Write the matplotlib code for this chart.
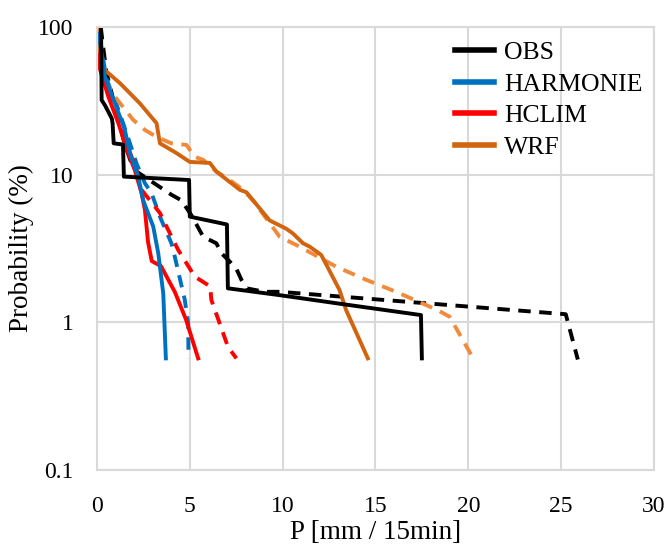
import numpy as np
import matplotlib.pyplot as plt
from matplotlib.ticker import FixedLocator, FixedFormatter

# OBS
obs_x = [0.22, 0.25, 0.43, 0.8, 0.84, 0.9, 1.4, 1.45, 4.96, 5.0, 7.0, 7.05, 9.8, 13.2, 17.45, 17.5]
obs_y = [100, 32, 29.5, 24, 22.3, 16.3, 16, 9.7, 9.2, 5.2, 4.6, 1.7, 1.53, 1.33, 1.12, 0.57]
obs2_x = [0.2, 0.5, 1.15, 1.5, 1.86, 2.13, 3.48, 4.02, 4.55, 5.09, 5.72, 6.43, 6.7, 7.06, 7.5, 7.78, 8.05, 9.03, 9.84, 25.25, 25.9]
obs2_y = [100, 50, 23.5, 16, 11.9, 10.5, 8.1, 7.3, 6.7, 5.3, 3.8, 3.43, 2.94, 2.65, 2.32, 1.94, 1.70, 1.61, 1.61, 1.135, 0.56]

# HARMONIE
har_x = [0.1, 0.43, 0.97, 1.5, 1.77, 2.22, 2.49, 3.03, 3.3, 3.57, 3.71]
har_y = [90, 45.7, 30.4, 20.1, 14, 9.7, 6.7, 4.45, 2.94, 1.57, 0.57]
har2_x = [0.15, 0.5, 1.05, 1.6, 1.95, 2.13, 2.58, 2.94, 3.39, 4.01, 4.19, 4.73, 4.91, 4.93]
har2_y = [85, 45, 30, 19, 14, 11.9, 8.75, 7.5, 5.2, 3.43, 2.79, 1.42, 0.99, 0.57]

# HCLIM
hcl_x = [0.05, 0.07, 0.61, 1.15, 1.68, 2.04, 2.4, 2.58, 2.75, 2.95, 3.45, 4.2, 4.8, 5.45]
hcl_y = [65, 56.7, 33.8, 22.3, 14, 10.7, 7.5, 5.8, 3.5, 2.6, 2.4, 1.6, 1.04, 0.57]
hcl2_x = [0.05, 0.5, 1.1, 1.7, 2.1, 2.4, 3.39, 3.57, 4.37, 5.27, 6.1, 6.16, 7.06, 7.51]
hcl2_y = [70, 42, 25, 15, 11, 7.9, 5.5, 4.93, 3.1, 2.04, 1.75, 1.42, 0.68, 0.57]

# WRF
wrf_x = [0.0, 0.0, 0.43, 1.24, 2.31, 3.21, 3.39, 4.28, 5.0, 6.08, 6.43, 7.69, 8.05, 9.3, 10.2, 10.55, 11.1, 11.45, 12.08, 13.06, 13.42, 14.59]
wrf_y = [100, 66, 51, 41.6, 30.4, 22.3, 16.3, 14, 12.2, 12.0, 10.5, 7.9, 7.6, 4.9, 4.3, 4.0, 3.43, 3.26, 2.86, 1.66, 1.21, 0.57]
wrf2_x = [0.0, 0.34, 0.97, 1.95, 2.58, 3.21, 4.01, 4.82, 5.27, 5.72, 6.43, 7.15, 7.87, 8.4, 9.84, 10.9, 12.89, 14.5, 16.11, 18.35, 19.0, 20.3]
wrf2_y = [60, 45.7, 33.7, 23.5, 20.1, 18, 16.3, 15.9, 13.2, 12.6, 10.5, 9.2, 7.9, 6.7, 3.8, 3.26, 2.38, 1.94, 1.61, 1.21, 1.09, 0.56]

plt.rcParams['font.family'] = ['Liberation Serif', 'DejaVu Serif']

fig = plt.figure(figsize=(6.67, 5.51), dpi=100)
ax = fig.add_axes([0.1454, 0.147, 0.835, 0.804])

lw = 2.8
dash = (3.2, 2.2)
c_obs, c_har, c_hcl, c_wrf, c_wrf2 = 'black', '#0070C0', '#FF0000', '#D2630F', '#F28A3B'

ax.plot(obs2_x, obs2_y, color=c_obs, lw=lw, dashes=dash)
ax.plot(har2_x, har2_y, color=c_har, lw=lw, dashes=dash)
ax.plot(hcl2_x, hcl2_y, color=c_hcl, lw=lw, dashes=dash)
ax.plot(wrf2_x, wrf2_y, color=c_wrf2, lw=lw, dashes=dash)
ax.plot(wrf_x, wrf_y, color=c_wrf, lw=lw, label='WRF')
ax.plot(hcl_x, hcl_y, color=c_hcl, lw=lw, label='HCLIM')
ax.plot(har_x, har_y, color=c_har, lw=lw, label='HARMONIE')
ax.plot(obs_x, obs_y, color=c_obs, lw=lw, label='OBS')

ax.set_yscale('log')
ax.set_xlim(0, 30)
ax.set_ylim(0.1, 100)
ax.xaxis.set_major_locator(FixedLocator([0, 5, 10, 15, 20, 25, 30]))
ax.yaxis.set_major_locator(FixedLocator([0.1, 1, 10, 100]))
ax.yaxis.set_major_formatter(FixedFormatter(['0.1', '1', '10', '100']))
ax.yaxis.set_minor_locator(FixedLocator([]))
ax.tick_params(length=0, labelsize=17)
ax.tick_params(axis='y', pad=17)
ax.tick_params(axis='x', pad=19)
ax.grid(True, color='#D9D9D9', lw=1.5)
ax.set_axisbelow(True)
for s in ax.spines.values():
    s.set_color('#D9D9D9')
    s.set_linewidth(1.5)

ax.set_xlabel('P [mm / 15min]', fontsize=19.5, labelpad=2)
ax.set_ylabel('Probability (%)', fontsize=19.5, labelpad=3)

handles, labels = ax.get_legend_handles_labels()
order = [3, 2, 1, 0]
leg = ax.legend([handles[i] for i in order], [labels[i] for i in order],
                loc='upper left', bbox_to_anchor=(0.643, 0.968), frameon=False,
                borderaxespad=0, borderpad=0,
                fontsize=18.5, handlelength=1.52, handletextpad=0.39, labelspacing=0.33)
for l in leg.get_lines():
    l.set_linewidth(4)

plt.savefig('out.png')
